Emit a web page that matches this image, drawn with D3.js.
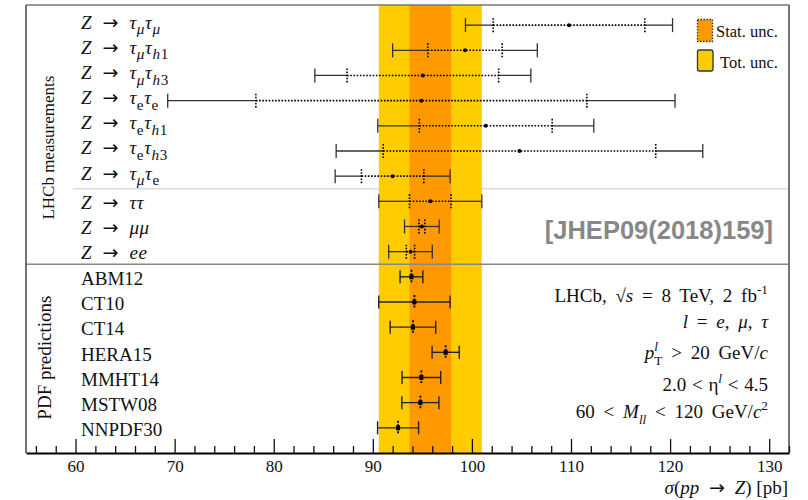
<!DOCTYPE html>
<html>
<head>
<meta charset="utf-8">
<script src="https://cdn.jsdelivr.net/npm/d3@7"></script>
<style>
  body { margin: 0; background: #fff; }
  text { font-family: "Liberation Serif", "Times New Roman", serif; }
</style>
</head>
<body>
<script>
// LHCb measurements (pb): central value, statistical and total uncertainty
const measLabels = [
  "Z → τ_{μ}τ_{μ}",
  "Z → τ_{μ}τ_{h1}",
  "Z → τ_{μ}τ_{h3}",
  "Z → τ_{`e`}τ_{`e`}",
  "Z → τ_{`e`}τ_{h1}",
  "Z → τ_{`e`}τ_{h3}",
  "Z → τ_{μ}τ_{`e`}",
  "Z → ττ",
  "Z → μμ",
  "Z → ee"
];
const measValue = [109.8, 99.3, 95.05, 94.9, 101.4, 104.8, 92.0, 95.8, 94.95, 93.8];
const measStat  = [7.65, 3.75, 7.65, 16.7, 6.7, 13.75, 3.15, 2.1, 0.3, 0.42];
const measTotal = [10.45, 7.3, 10.9, 25.6, 10.9, 18.5, 5.8, 5.2, 1.75, 2.2];

// PDF predictions (pb)
const pdfLabels = ["ABM12", "CT10", "CT14", "HERA15", "MMHT14", "MSTW08", "NNPDF30"];
const pdfValue  = [93.9, 94.2, 94.05, 97.35, 94.9, 94.8, 92.55];
const pdfError  = [1.15, 3.6, 2.3, 1.37, 1.95, 1.87, 2.07];

const xTickValues = [60, 70, 80, 90, 100, 110, 120, 130];
const groupLabels = ["LHCb measurements", "PDF predictions"];
const infoLines = [
  "`LHCb`, √s = 8 `TeV`, 2 `fb`^{-1}",
  "l = e, μ, τ",
  "p^{l}_{`T`} > 20 `GeV`/c",
  "2.0 < `η`^{l} < 4.5",
  "60 < M_{ll} < 120 `GeV`/c^{2}"
];
const legendLabels = ["Stat. unc.", "Tot. unc."];
const refLabel = "[JHEP09(2018)159]";
const xTitle = "σ(pp → Z) [`pb`]";

const YELLOW = "#ffcc00", ORANGE = "#ff9900";

const svg = d3.select("body").append("svg").attr("width", 808).attr("height", 500);

const x = d3.scaleLinear().domain([55, 132]).range([26, 789]);
const y = d3.scaleLinear().domain([-0.8, 17]).range([5, 453]);

const meas = measLabels.map((l, i) => ({ label: l, value: measValue[i], stat: measStat[i], total: measTotal[i], row: i }));
const pdfs = pdfLabels.map((l, i) => ({ label: l, value: pdfValue[i], total: pdfError[i], row: measLabels.length + i }));

// small TLatex-like renderer: _{..} sub, ^{..} sup, `..` roman, letters italic otherwise
function richText(el, str, size, subScale = 0.7) {
  const chars = [];
  let roman = false, mode = "base";
  for (let i = 0; i < str.length; i++) {
    const c = str[i];
    if (c === "`") { roman = !roman; continue; }
    if ((c === "_" || c === "^") && str[i + 1] === "{") { mode = c === "_" ? "sub" : "sup"; i++; continue; }
    if (c === "}" && mode !== "base") { mode = "base"; continue; }
    chars.push({ c, mode, it: !roman && /[A-Za-z\u0370-\u03ff]/.test(c), arrow: c === "→" });
  }
  const runs = [];
  chars.forEach(ch => {
    const last = runs[runs.length - 1];
    if (last && last.mode === ch.mode && last.it === ch.it && last.arrow === ch.arrow) last.t += ch.c;
    else runs.push({ t: ch.c, mode: ch.mode, it: ch.it, arrow: ch.arrow });
  });
  let shift = 0, supWidth = 0, prevMode = "base", afterArrow = false;
  runs.forEach(r => {
    const target = r.mode === "sub" ? 0.3 * size : r.mode === "sup" ? -0.42 * size : 0;
    const ts = el.append("tspan")
      .text(r.t)
      .attr("font-style", r.it ? "italic" : "normal")
      .attr("font-size", r.mode === "base" ? size : size * subScale)
      .attr("dy", target - shift);
    if (r.arrow) ts.attr("font-family", "'DejaVu Sans'").attr("dx", 5);
    if (afterArrow) ts.attr("dx", 5);
    if (r.mode === "sub" && prevMode === "sup") ts.attr("dx", -supWidth);
    if (r.mode === "sup") supWidth += ts.node().getComputedTextLength();
    else supWidth = 0;
    shift = target;
    prevMode = r.mode;
    afterArrow = r.arrow;
  });
}

// light separator between single channels and combinations (under the bands)
svg.append("line")
  .attr("x1", 73).attr("x2", 789)
  .attr("y1", y(6.5)).attr("y2", y(6.5))
  .attr("stroke", "#dcdcdc").attr("stroke-width", 1.5);

// combined Z -> tautau uncertainty bands
const comb = meas[7];
svg.append("rect")
  .attr("x", x(comb.value - comb.total))
  .attr("width", x(comb.value + comb.total) - x(comb.value - comb.total))
  .attr("y", y(-0.8)).attr("height", y(17) - y(-0.8))
  .attr("fill", YELLOW);
svg.append("rect")
  .attr("x", x(comb.value - comb.stat))
  .attr("width", x(comb.value + comb.stat) - x(comb.value - comb.stat))
  .attr("y", y(-0.8)).attr("height", y(17) - y(-0.8))
  .attr("fill", ORANGE);

// separator between measurements and predictions
svg.append("line")
  .attr("x1", 26).attr("x2", 789)
  .attr("y1", y(9.5)).attr("y2", y(9.5))
  .attr("stroke", "#888").attr("stroke-width", 1.5);

// frame
svg.append("line").attr("x1", 26).attr("x2", 789).attr("y1", 5).attr("y2", 5)
  .attr("stroke", "#777").attr("stroke-width", 1.5);
svg.append("line").attr("x1", 789).attr("x2", 789).attr("y1", 5).attr("y2", 453)
  .attr("stroke", "#666").attr("stroke-width", 1.8);
svg.append("line").attr("x1", 26).attr("x2", 26).attr("y1", 5).attr("y2", 453)
  .attr("stroke", "#444").attr("stroke-width", 1.5);

// x axis, ticks pointing inwards
const axisG = svg.append("g")
  .attr("transform", "translate(0,453)")
  .call(d3.axisBottom(x).tickValues(xTickValues).tickSize(-14).tickSizeOuter(0)
    .tickPadding(7).tickFormat(d3.format("d")));
axisG.attr("font-family", "Liberation Serif").attr("font-size", 17);
axisG.select(".domain").attr("stroke", "#000").attr("stroke-width", 2);
axisG.selectAll(".tick line").attr("stroke", "#111").attr("stroke-width", 1.3);
axisG.selectAll(".tick text").attr("fill", "#111");

const minorTicks = d3.range(56, 133, 2).filter(v => v % 10 !== 0);
svg.append("g")
  .attr("transform", "translate(0,453)")
  .call(d3.axisBottom(x).tickValues(minorTicks).tickSize(-7).tickFormat(""))
  .call(g => g.select(".domain").remove())
  .selectAll(".tick line").attr("stroke", "#111").attr("stroke-width", 1.3);

svg.append("text")
  .attr("x", 788).attr("y", 494)
  .attr("text-anchor", "end")
  .attr("fill", "#111")
  .call(t => richText(t, xTitle, 19));

// measurement error bars: solid total part, dotted statistical part
const mG = svg.append("g");
meas.forEach(d => {
  const yy = y(d.row);
  const lo = x(d.value - d.total), hi = x(d.value + d.total);
  const slo = x(d.value - d.stat), shi = x(d.value + d.stat);
  const g = mG.append("g");
  [[lo, slo], [shi, hi]].forEach(([a, b]) => {
    g.append("line").attr("x1", a).attr("x2", b).attr("y1", yy).attr("y2", yy)
      .attr("stroke", "#333").attr("stroke-width", 1.3);
  });
  g.append("line").attr("x1", slo).attr("x2", shi).attr("y1", yy).attr("y2", yy)
    .attr("stroke", "#000").attr("stroke-width", 1.6).attr("stroke-dasharray", "1.6,1.6");
  [lo, hi].forEach(v => {
    g.append("line").attr("x1", v).attr("x2", v).attr("y1", yy - 7).attr("y2", yy + 7)
      .attr("stroke", "#333").attr("stroke-width", 1.3);
  });
  [slo, shi].forEach(v => {
    g.append("line").attr("x1", v).attr("x2", v).attr("y1", yy - 7).attr("y2", yy + 7)
      .attr("stroke", "#000").attr("stroke-width", 1.6).attr("stroke-dasharray", "1.6,1.5");
  });
  g.append("circle").attr("cx", x(d.value)).attr("cy", yy).attr("r", 2).attr("fill", "#000");
});

// PDF predictions
const pG = svg.append("g");
pdfs.forEach(d => {
  const yy = y(d.row);
  const lo = x(d.value - d.total), hi = x(d.value + d.total);
  const g = pG.append("g");
  g.append("line").attr("x1", lo).attr("x2", hi).attr("y1", yy).attr("y2", yy)
    .attr("stroke", "#222").attr("stroke-width", 1.4);
  [lo, hi].forEach(v => {
    g.append("line").attr("x1", v).attr("x2", v).attr("y1", yy - 6.5).attr("y2", yy + 6.5)
      .attr("stroke", "#222").attr("stroke-width", 1.4);
  });
  g.append("line").attr("x1", x(d.value)).attr("x2", x(d.value)).attr("y1", yy - 7).attr("y2", yy + 7)
    .attr("stroke", "#000").attr("stroke-width", 1.8).attr("stroke-dasharray", "2,1.5");
  g.append("rect").attr("x", x(d.value) - 2).attr("y", yy - 2.5).attr("width", 4).attr("height", 5)
    .attr("fill", "#000");
});

// row labels
meas.forEach(d => {
  const hasSub = d.label.includes("_{");
  svg.append("text")
    .attr("x", 81).attr("y", y(d.row) + (hasSub ? 3.4 : 7.6))
    .attr("fill", "#111")
    .attr("letter-spacing", 0.6)
    .call(t => richText(t, d.label, 19, 0.8));
});
pdfs.forEach(d => {
  svg.append("text")
    .attr("x", 81).attr("y", y(d.row) + 8.3)
    .attr("font-size", 19).attr("fill", "#111")
    .text(d.label);
});

// group titles on the left
svg.append("text")
  .attr("transform", `translate(54,${(y(-0.8) + y(9.5)) / 2 + 13}) rotate(-90)`)
  .attr("text-anchor", "middle").attr("font-size", 17).attr("fill", "#111")
  .text(groupLabels[0]);
svg.append("text")
  .attr("transform", `translate(51,${(y(9.5) + y(17)) / 2 - 1}) rotate(-90)`)
  .attr("text-anchor", "middle").attr("font-size", 19).attr("fill", "#111")
  .text(groupLabels[1]);

// legend
svg.append("rect").attr("x", 697.5).attr("y", 19.5).attr("width", 15).attr("height", 22)
  .attr("fill", ORANGE).attr("stroke", "#333").attr("stroke-width", 1.3).attr("stroke-dasharray", "1.5,1.5");
svg.append("rect").attr("x", 697.5).attr("y", 50).attr("width", 15.5).attr("height", 21).attr("rx", 2)
  .attr("fill", YELLOW).attr("stroke", "#333").attr("stroke-width", 1.3);
svg.append("text").attr("x", 716).attr("y", 37).attr("font-size", 16.5).attr("fill", "#111").text(legendLabels[0]);
svg.append("text").attr("x", 720).attr("y", 67.5).attr("font-size", 16.5).attr("fill", "#111").text(legendLabels[1]);

// reference tag
svg.append("text")
  .attr("x", 773).attr("y", 239)
  .attr("text-anchor", "end")
  .style("font-family", "'Liberation Sans', Arial, sans-serif")
  .attr("font-weight", "bold").attr("font-size", 25.5).attr("fill", "#888")
  .text(refLabel);

// selection summary
const infoY = [301.7, 328.3, 359, 390.7, 418.3];
const infoSpacing = [4, 4, 4, 1, 4];
infoLines.forEach((s, i) => {
  svg.append("text")
    .attr("x", 768).attr("y", infoY[i])
    .attr("text-anchor", "end").attr("fill", "#111")
    .attr("word-spacing", infoSpacing[i])
    .call(t => richText(t, s, 19));
});
</script>
</body>
</html>
